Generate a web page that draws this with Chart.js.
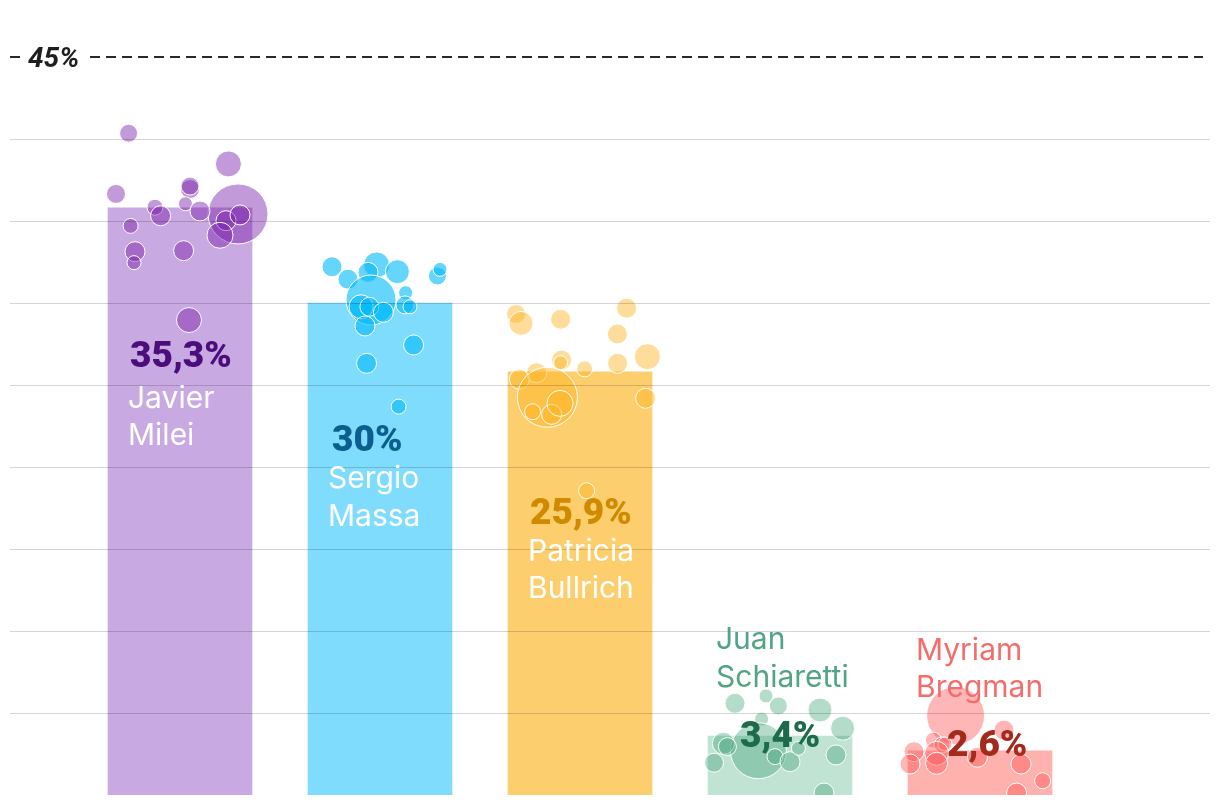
<!DOCTYPE html>
<html>
<head>
<meta charset="utf-8">
<script src="https://cdn.jsdelivr.net/npm/chart.js@4.4.0/dist/chart.umd.min.js"></script>
<style>
  html, body { margin: 0; padding: 0; background: #fff; }
  #wrap { width: 1220px; height: 810px; }
</style>
</head>
<body>
<div id="wrap"><canvas id="chart" width="1220" height="810"></canvas></div>
<script>
// candidates, in bar order
const nameLines = [['Javier', 'Milei'], ['Sergio', 'Massa'], ['Patricia', 'Bullrich'], ['Juan', 'Schiaretti'], ['Myriam', 'Bregman']];
const shareLabels = ['35,3%', '30%', '25,9%', '3,4%', '2,6%'];
const barValues = [35.8, 30.0, 25.8, 3.6, 2.7];

// gridlines
const yTicks = [5, 10, 15, 20, 25, 30, 35, 40];
const topTick = 45;
const topTickLabel = '45%';

// poll bubbles: [offset from bar centre (in bar slots), value %, radius]
const mileiPolls = [
    [-0.257, 40.35, 9], [0.242, 38.48, 13], [-0.32, 36.65, 9.5], [0.05, 36.95, 9.5], [0.05, 37.13, 9],
    [0.29, 35.43, 30], [-0.125, 35.84, 8], [-0.097, 35.32, 10], [0.027, 36.05, 7], [0.10, 35.61, 10],
    [0.23, 35.02, 10], [0.30, 35.37, 10], [0.20, 34.13, 13], [-0.247, 34.70, 7.5], [-0.225, 33.13, 10],
    [-0.23, 32.46, 7], [0.018, 33.19, 10], [0.045, 28.96, 12.5],
];
const massaPolls = [
    [-0.24, 32.21, 10], [-0.16, 31.45, 10], [-0.017, 32.32, 13], [-0.06, 31.87, 10], [0.087, 31.91, 12],
    [0.287, 31.65, 9], [0.30, 32.05, 7], [-0.045, 30.18, 25], [-0.095, 29.77, 12], [-0.053, 29.77, 9.5],
    [0.017, 29.43, 10], [0.128, 30.63, 7], [0.125, 29.88, 9], [0.15, 29.77, 7], [-0.075, 28.6, 10],
    [0.168, 27.44, 10], [-0.067, 26.32, 10], [0.093, 23.68, 7.5],
];
const bullrichPolls = [
    [-0.32, 29.33, 9.5], [-0.295, 28.76, 12], [-0.097, 29.01, 10], [0.233, 29.68, 10], [0.187, 28.11, 10],
    [0.337, 26.73, 13], [-0.092, 26.52, 10], [-0.097, 26.36, 7], [0.023, 25.98, 8], [0.188, 26.32, 10],
    [-0.217, 25.75, 10], [-0.303, 25.35, 10], [-0.163, 24.25, 30], [-0.237, 23.37, 8], [-0.142, 23.21, 10],
    [-0.10, 23.88, 13], [0.328, 24.19, 10], [0.033, 18.55, 8],
];
const schiarettiPolls = [
    [-0.225, 5.59, 10], [-0.07, 6.04, 7], [-0.008, 5.43, 9], [0.20, 5.18, 12], [0.313, 4.07, 12],
    [-0.092, 4.63, 7], [-0.108, 2.70, 28], [-0.283, 3.15, 11], [-0.263, 2.95, 9], [-0.33, 1.97, 9.5],
    [-0.025, 2.34, 8], [0.05, 2.03, 10], [0.092, 2.85, 7], [0.28, 2.44, 10], [0.22, 0.12, 10],
];
const bregmanPolls = [
    [-0.122, 4.84, 29], [0.12, 3.96, 10], [-0.233, 3.35, 8], [-0.19, 3.05, 8], [-0.175, 3.11, 7],
    [-0.33, 2.64, 10], [-0.35, 1.89, 10], [-0.217, 2.54, 12], [-0.217, 1.93, 11], [-0.013, 2.30, 10],
    [0.205, 1.89, 10], [0.313, 0.87, 8], [0.183, 0.12, 10],
];
const pollSets = [mileiPolls, massaPolls, bullrichPolls, schiarettiPolls, bregmanPolls];

const barColors = ['#c9a9e1', '#80dcfc', '#fdce6e', '#c0e3d4', '#ffb1ae'];
const bubbleColors = ['rgba(119,25,169,0.44)', 'rgba(0,185,250,0.6)', 'rgba(253,180,30,0.45)', 'rgba(60,160,118,0.38)', 'rgba(255,80,80,0.42)'];
const shareColors = ['#4b0d7c', '#0b5e8e', '#cf8a00', '#1d6a4c', '#a52a1e'];
const nameColors = ['#ffffff', '#ffffff', '#ffffff', '#52a485', '#f46d6b'];

// label placement relative to the bar's top-left corner
const labelLayout = [
    { shareDx: 22, shareDy: 159, nameDx: 20, nameDy: [200, 237] },
    { shareDx: 24, shareDy: 148, nameDx: 20, nameDy: [185, 223] },
    { shareDx: 22, shareDy: 152, nameDx: 20, nameDy: [189, 226] },
    { shareDx: 32, shareDy: 11, nameDx: 8, nameDy: [-87, -49] },
    { shareDx: 39, shareDy: 5, nameDx: 8, nameDy: [-91, -54] },
];

const gridPlugin = {
    id: 'gridLines',
    beforeDatasetsDraw(chart) {
        const { ctx, chartArea, scales: { y } } = chart;
        const ty = Math.round(y.getPixelForValue(topTick));
        ctx.save();
        ctx.strokeStyle = '#2a2a2a';
        ctx.lineWidth = 2;
        ctx.setLineDash([10, 6]);
        ctx.beginPath();
        ctx.moveTo(chartArea.left, ty);
        ctx.lineTo(chartArea.right - 7, ty);
        ctx.stroke();
        ctx.setLineDash([]);
        ctx.font = 'italic 700 28px Roboto';
        const w = ctx.measureText(topTickLabel).width;
        ctx.fillStyle = '#fff';
        ctx.fillRect(chartArea.left + 12, ty - 16, w + 16, 32);
        ctx.fillStyle = '#1e1e1e';
        ctx.textBaseline = 'alphabetic';
        ctx.fillText(topTickLabel, chartArea.left + 18, ty + 10);
        ctx.restore();
    },
    afterDatasetsDraw(chart) {
        const { ctx, chartArea, scales: { y } } = chart;
        ctx.save();
        ctx.strokeStyle = 'rgba(0,0,0,0.17)';
        ctx.lineWidth = 1;
        yTicks.forEach((v) => {
            const py = Math.round(y.getPixelForValue(v)) + 0.5;
            ctx.beginPath();
            ctx.moveTo(chartArea.left, py);
            ctx.lineTo(chartArea.right, py);
            ctx.stroke();
        });

        const bars = chart.getDatasetMeta(chart.data.datasets.length - 1).data;
        ctx.textBaseline = 'alphabetic';
        ctx.textAlign = 'left';
        bars.forEach((bar, i) => {
            const left = bar.x - bar.width / 2;
            const top = bar.y;
            const lay = labelLayout[i];
            ctx.font = '900 37px Roboto';
            ctx.fillStyle = shareColors[i];
            ctx.fillText(shareLabels[i], left + lay.shareDx, top + lay.shareDy);
            ctx.font = '400 30px Inter';
            ctx.fillStyle = nameColors[i];
            nameLines[i].forEach((line, k) => {
                ctx.fillText(line, left + lay.nameDx, top + lay.nameDy[k]);
            });
        });
        ctx.restore();
    },
};

const bubbleDatasets = pollSets.map((polls, i) => ({
    type: 'bubble',
    data: polls.map(([dx, v, r]) => ({ x: i + dx, y: v, r })),
    backgroundColor: bubbleColors[i],
    borderColor: '#ffffff',
    borderWidth: 1,
    order: 0,
}));

new Chart(document.getElementById('chart'), {
    type: 'bar',
    data: {
        datasets: [
            ...bubbleDatasets,
            {
                type: 'bar',
                data: barValues.map((v, i) => ({ x: i, y: v })),
                backgroundColor: barColors,
                barThickness: 144,
                borderWidth: 0,
                order: 1,
            },
        ],
    },
    options: {
        responsive: false,
        animation: false,
        events: [],
        layout: { autoPadding: false, padding: { left: 10, right: 10, top: 57, bottom: 15 } },
        plugins: { legend: { display: false }, tooltip: { enabled: false } },
        scales: {
            x: { type: 'linear', min: -0.85, max: 5.15, display: false, offset: false },
            y: { min: 0, max: 45, display: false },
        },
    },
    plugins: [gridPlugin],
});
</script>
</body>
</html>
